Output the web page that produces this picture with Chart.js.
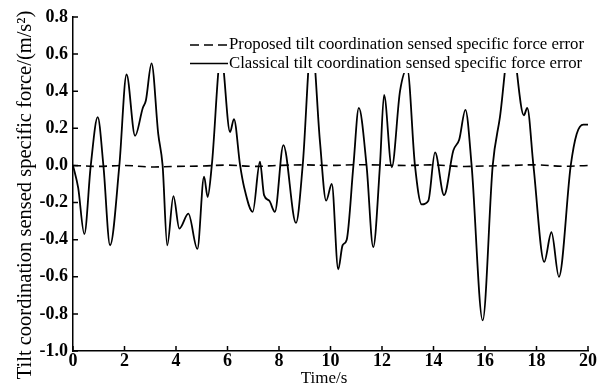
<!DOCTYPE html>
<html>
<head>
<meta charset="utf-8">
<script src="https://cdn.jsdelivr.net/npm/chart.js@4.4.1/dist/chart.umd.min.js"></script>
<style>
  body { margin: 0; background: #fff; }
  #wrap { width: 606px; height: 387px; }
</style>
</head>
<body>
<div id="wrap"><canvas id="chart_tilt" width="606" height="387"></canvas></div>
<script>
// values
const classicalTime = [0, 0.2, 0.44, 0.69, 0.96, 1.18, 1.44, 1.8, 2.08, 2.41, 2.71, 2.83, 3.05, 3.31, 3.48,
    3.66, 3.9, 4.13, 4.48, 4.83, 5.09, 5.23, 5.39, 5.75, 6.1, 6.25, 6.49, 6.65, 6.98, 7.26, 7.42, 7.62, 7.84,
    8.17, 8.66, 8.92, 9.27, 9.59, 9.83, 10.05, 10.3, 10.47, 10.63, 10.89, 11.1, 11.4, 11.66, 11.92, 12.08,
    12.38, 12.7, 12.98, 13.28, 13.54, 13.8, 14.06, 14.41, 14.77, 15.0, 15.24, 15.48, 15.91, 16.3, 16.58,
    17.0, 17.51, 17.64, 17.88, 18.3, 18.58, 18.87, 19.33, 19.56, 19.82, 20];
const classicalError = [0, -0.12, -0.37, 0, 0.26, 0, -0.43, 0, 0.49, 0.16, 0.31, 0.35, 0.55, 0.17, 0,
    -0.43, -0.165, -0.34, -0.26, -0.45, -0.06, -0.17, 0, 0.6, 0.18, 0.25, 0, -0.12, -0.25, 0.02, -0.16, -0.19, -0.25,
    0.11, -0.31, 0, 0.68, 0.13, -0.19, -0.1, -0.56, -0.43, -0.4, 0, 0.31, 0, -0.44, 0, 0.38,
    -0.01, 0.4, 0.52, 0, -0.21, -0.19, 0.07, -0.16, 0.08, 0.14, 0.3, 0, -0.835, 0, 0.26,
    0.7, 0.27, 0.31, 0, -0.52, -0.36, -0.6, 0, 0.17, 0.22, 0.22];

const proposedTime = [0, 1, 2, 3, 4, 5, 6, 7, 8, 9, 10, 11, 12, 13, 14, 15, 16, 17, 18, 19, 20];
const proposedError = [0, -0.005, 0, -0.008, -0.005, -0.003, 0.002, -0.005, 0, 0.003, 0, 0.004, 0.002, 0,
    0.003, -0.005, -0.003, 0, 0.003, -0.004, 0];

const xTicks = [0, 2, 4, 6, 8, 10, 12, 14, 16, 18, 20];
const yTicks = [-1.0, -0.8, -0.6, -0.4, -0.2, 0.0, 0.2, 0.4, 0.6, 0.8];

const xTitle = 'Time/s';
const yTitle = 'Tilt coordination sensed specific force/(m/s\u00B2)';

const serif = '"Liberation Serif", "Times New Roman", serif';

// inward tick marks + axis titles
const axisDecor = {
    id: 'axisDecor',
    afterDraw(chart) {
        const { ctx, scales: { x, y } } = chart;
        ctx.save();
        ctx.strokeStyle = '#000';
        ctx.lineWidth = 1.5;
        ctx.beginPath();
        xTicks.forEach(v => {
            const px = x.getPixelForValue(v);
            ctx.moveTo(px, y.bottom);
            ctx.lineTo(px, y.bottom - 5);
        });
        yTicks.forEach(v => {
            const py = y.getPixelForValue(v);
            ctx.moveTo(x.left, py);
            ctx.lineTo(x.left + 5, py);
        });
        ctx.stroke();

        ctx.fillStyle = '#000';
        ctx.textAlign = 'center';
        ctx.textBaseline = 'middle';
        ctx.font = '17px ' + serif;
        ctx.fillText(xTitle, 324, 379);
        ctx.translate(26, 195);
        ctx.rotate(-Math.PI / 2);
        ctx.font = '20.5px ' + serif;
        ctx.fillText(yTitle, 0, 0);
        ctx.restore();
    }
};

// legend drawn inside the plot with a white box (covers the curve peaks like in the figure)
const boxLegend = {
    id: 'boxLegend',
    afterDatasetsDraw(chart) {
        const { ctx } = chart;
        ctx.save();
        ctx.fillStyle = '#fff';
        ctx.fillRect(186, 34, 404, 39);
        ctx.font = '16.8px ' + serif;
        ctx.textBaseline = 'middle';
        ctx.fillStyle = '#000';
        chart.data.datasets.forEach((ds, i) => {
            const yy = 45 + i * 18.5;
            ctx.beginPath();
            ctx.lineWidth = 1.6;
            ctx.strokeStyle = '#000';
            ctx.setLineDash(ds.borderDash ? [9, 5] : []);
            ctx.moveTo(190, yy);
            ctx.lineTo(228, yy);
            ctx.stroke();
            ctx.setLineDash([]);
            ctx.fillText(ds.label, 229, yy);
        });
        ctx.restore();
    }
};

new Chart(document.getElementById('chart_tilt'), {
    type: 'line',
    data: {
        datasets: [
            {
                label: 'Proposed tilt coordination sensed specific force error',
                data: proposedTime.map((t, i) => ({ x: t, y: proposedError[i] })),
                borderColor: '#000',
                borderWidth: 1.6,
                borderDash: [8, 5],
                pointRadius: 0,
                tension: 0.4
            },
            {
                label: 'Classical tilt coordination sensed specific force error',
                data: classicalTime.map((t, i) => ({ x: t, y: classicalError[i] })),
                borderColor: '#000',
                borderWidth: 1.8,
                pointRadius: 0,
                cubicInterpolationMode: 'monotone'
            }
        ]
    },
    options: {
        responsive: false,
        animation: false,
        layout: { padding: { left: 0, right: 18, top: 17, bottom: 0 } },
        plugins: { legend: { display: false }, tooltip: { enabled: false } },
        scales: {
            x: {
                type: 'linear',
                min: 0,
                max: 20,
                afterBuildTicks: s => { s.ticks = xTicks.map(v => ({ value: v })); },
                afterFit: s => { s.height = 36; },
                grid: { display: false, drawTicks: false },
                border: { color: '#000', width: 1.5 },
                ticks: { color: '#000', padding: 1, font: { family: serif, size: 18, weight: 'bold', lineHeight: 1 } }
            },
            y: {
                min: -1,
                max: 0.8,
                afterBuildTicks: s => { s.ticks = yTicks.map(v => ({ value: v })); },
                afterFit: s => { s.width = 73; },
                grid: { display: false, drawTicks: false },
                border: { color: '#000', width: 1.5 },
                ticks: {
                    color: '#000',
                    padding: 5,
                    font: { family: serif, size: 18, weight: 'bold' },
                    callback: v => v.toFixed(1)
                }
            }
        }
    },
    plugins: [axisDecor, boxLegend]
});
</script>
</body>
</html>
